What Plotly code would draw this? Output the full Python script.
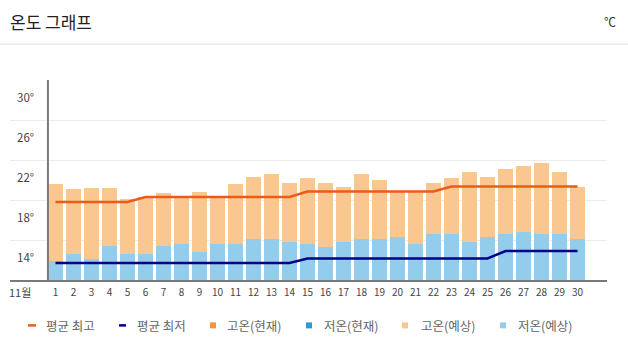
import plotly.graph_objects as go

# ---- data ----
days = list(range(1, 31))
day_labels = [str(d) for d in days]
month_label = "11월"

high_forecast = [19.6, 19.1, 19.2, 19.2, 18.1, 18.3, 18.7, 18.2, 18.8, 18.2,
                 19.6, 20.3, 20.6, 19.7, 20.2, 19.7, 19.3, 20.6, 20.0, 18.8,
                 18.9, 19.7, 20.2, 20.8, 20.3, 21.1, 21.4, 21.7, 20.8, 19.3]
low_forecast = [11.9, 12.6, 12.1, 13.4, 12.6, 12.6, 13.4, 13.6, 12.8, 13.6,
                13.6, 14.1, 14.1, 13.8, 13.6, 13.3, 13.8, 14.1, 14.1, 14.3,
                13.6, 14.6, 14.6, 13.8, 14.3, 14.6, 14.8, 14.6, 14.6, 14.1]
avg_high = [17.8] * 5 + [18.3] * 9 + [18.85] * 8 + [19.35] * 8
avg_low = [11.7] * 14 + [12.15] * 11 + [12.9] * 5

y_ticks = [10, 14, 18, 22, 26, 30]
y_tick_labels = ["", "14°", "18°", "22°", "26°", "30°"]

legend_names = ["평균 최고", "평균 최저", "고온(현재)", "저온(현재)", "고온(예상)", "저온(예상)"]

# ---- style ----
C_HIGH_F = "#F9C78F"
C_LOW_F = "#93CDEB"
C_AVG_H = "#EE5A1A"
C_AVG_L = "#00008B"
C_HIGH_C = "#F7943C"
C_LOW_C = "#2C98D8"
FONT = "Noto Sans CJK KR"

W, H = 628, 354
ML, MR, MT, MB = 10, 21, 80, 73.5
PW = W - ML - MR
PH = H - MT - MB


def px(xp):
    return (xp - ML) / PW


def py(yp):
    return (H - MB - yp) / PH


fig = go.Figure()
fig.add_trace(go.Bar(x=days, y=[h - y_ticks[0] for h in high_forecast], base=y_ticks[0],
                     marker=dict(color=C_HIGH_F, line=dict(width=0)), width=0.78,
                     name=legend_names[4], showlegend=False))
fig.add_trace(go.Bar(x=days, y=[l - y_ticks[0] for l in low_forecast], base=y_ticks[0],
                     marker=dict(color=C_LOW_F, line=dict(width=0)), width=0.78,
                     name=legend_names[5], showlegend=False))
fig.add_trace(go.Scatter(x=days, y=avg_high, mode="lines",
                         line=dict(color=C_AVG_H, width=2.5), name=legend_names[0], showlegend=False))
fig.add_trace(go.Scatter(x=days, y=avg_low, mode="lines",
                         line=dict(color=C_AVG_L, width=2.5), name=legend_names[1], showlegend=False))

shapes = []
annotations = []

# vertical axis line at left of first bar
shapes.append(dict(type="line", xref="x", yref="y", x0=0.58, x1=0.58, y0=y_ticks[0], y1=y_ticks[-1],
                   line=dict(color="#7A7A7A", width=2)))
# title separator
shapes.append(dict(type="line", xref="paper", yref="paper", x0=px(0), x1=px(W), y0=py(44), y1=py(44),
                   line=dict(color="#DDDDDD", width=1)))

# title
annotations.append(dict(text="온도 그래프", xref="paper", yref="paper", x=px(8), y=py(21),
                        xanchor="left", yanchor="middle", showarrow=False,
                        font=dict(family=FONT, size=17, color="#222222")))
annotations.append(dict(text="℃", xref="paper", yref="paper", x=px(610), y=py(21),
                        xanchor="center", yanchor="middle", showarrow=False,
                        font=dict(family=FONT, size=12, color="#333333")))

# y labels (below gridlines)
for v, t in zip(y_ticks, y_tick_labels):
    if t:
        annotations.append(dict(text=t, xref="paper", yref="y", x=px(36), y=v, yshift=-16.5,
                                xanchor="right", yanchor="middle", showarrow=False,
                                font=dict(family=FONT, size=11.5, color="#444444")))

# month label
annotations.append(dict(text=month_label, xref="paper", yref="paper", x=px(20), y=py(293),
                        xanchor="center", yanchor="middle", showarrow=False,
                        font=dict(family=FONT, size=11, color="#444444")))

# manual legend
leg_y = py(326)
leg_items = [
    ("line", C_AVG_H, 28, 36, 44),
    ("line", C_AVG_L, 119, 126, 135),
    ("sq", C_HIGH_C, 210, 216, 225),
    ("sq", C_LOW_C, 306, 312, 322),
    ("sq", C_HIGH_F, 402, 408, 419),
    ("sq", C_LOW_F, 500, 506, 516),
]
for (kind, col, x0, x1, tx), name in zip(leg_items, legend_names):
    if kind == "line":
        shapes.append(dict(type="line", xref="paper", yref="paper", x0=px(x0), x1=px(x1),
                           y0=leg_y, y1=leg_y, line=dict(color=col, width=2.5)))
    else:
        shapes.append(dict(type="rect", xref="paper", yref="paper", x0=px(x0), x1=px(x1),
                           y0=py(329), y1=py(323), fillcolor=col, line=dict(width=0)))
    annotations.append(dict(text=name, xref="paper", yref="paper", x=px(tx), y=leg_y,
                            xanchor="left", yanchor="middle", showarrow=False,
                            font=dict(family=FONT, size=12.5, color="#666666")))

x0_range = days[0] - (55.5 - ML) / 18
x1_range = x0_range + PW / 18

fig.update_layout(
    width=W, height=H,
    margin=dict(l=ML, r=MR, t=MT, b=MB),
    paper_bgcolor="white", plot_bgcolor="white",
    barmode="overlay", bargap=0,
    showlegend=False,
    shapes=shapes, annotations=annotations,
    font=dict(family=FONT),
    xaxis=dict(range=[x0_range, x1_range], tickvals=days, ticktext=day_labels,
               showgrid=False, zeroline=False, showline=True, linecolor="#7A7A7A", linewidth=2,
               ticks="", ticklabelstandoff=2,
               tickfont=dict(family=FONT, size=10, color="#444444"), fixedrange=True),
    yaxis=dict(range=[y_ticks[0], y_ticks[-1]], tickvals=y_ticks, showticklabels=False,
               showgrid=True, gridcolor="#EBEBEB", gridwidth=1, zeroline=False, showline=False,
               ticks="", fixedrange=True),
)

fig.write_html("out.html", config={"displayModeBar": False})
